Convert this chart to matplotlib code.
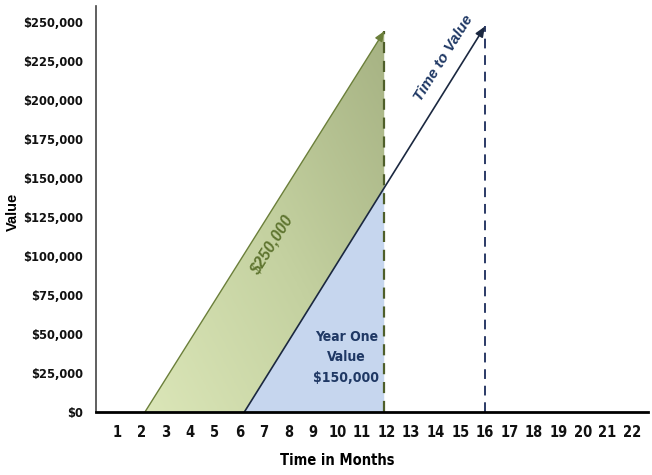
import numpy as np
import matplotlib
matplotlib.use("Agg")
import matplotlib.pyplot as plt
from matplotlib.patches import Polygon
from matplotlib.colors import LinearSegmentedColormap
from matplotlib import font_manager

# ---- data ----
months = list(range(1, 23))
value_ticks = [0, 25000, 50000, 75000, 100000, 125000, 150000, 175000, 200000, 225000, 250000]
value_labels = ["$0", "$25,000", "$50,000", "$75,000", "$100,000", "$125,000",
                "$150,000", "$175,000", "$200,000", "$225,000", "$250,000"]

green_start = 2.15          # month where planned value starts
green_end = (11.9, 244000)  # tip of planned value arrow
ttv_start = 6.2             # month where actual value starts
ttv_end = (16.0, 247000)    # tip of time-to-value arrow
year_end = 11.9             # end of year one

# derived: time-to-value line value at year end
ttv_at_year_end = ttv_end[1] * (year_end - ttv_start) / (ttv_end[0] - ttv_start)

# look for a condensed / narrow face
narrow_family, narrow_stretch = "Liberation Sans", "normal"
for f in font_manager.fontManager.ttflist:
    st = f.stretch
    is_cond = (isinstance(st, str) and "condensed" in st) or (isinstance(st, (int, float)) and st < 500)
    if "Narrow" in f.name or "Condensed" in f.name:
        narrow_family, narrow_stretch = f.name, "normal"
        break
    if is_cond:
        narrow_family, narrow_stretch = f.name, "condensed"
        break

NFONT = dict(family=narrow_family, stretch=narrow_stretch)

fig = plt.figure(figsize=(6.52, 4.75), dpi=100)
ax = fig.add_axes([0.147, 0.1326, 0.847, 0.8544])
ax.set_xlim(0.15, 22.65)
ax.set_ylim(0, 260000)

olive = "#5f7530"
navy = "#1f3864"

# blue triangle (year one value)
blue = Polygon([(ttv_start, 0), (year_end, ttv_at_year_end), (year_end, 0)],
               closed=True, facecolor="#c6d6ee", edgecolor="none", zorder=1)
ax.add_patch(blue)

# green gradient band
band_pts = [(green_start, 0), green_end, (year_end, ttv_at_year_end), (ttv_start, 0)]
band = Polygon(band_pts, closed=True, facecolor="none", edgecolor="none", zorder=1)
ax.add_patch(band)
n = 200
gx, gy = np.meshgrid(np.linspace(0, 1, n), np.linspace(0, 1, n))
grad = 0.55 * gx + 0.45 * gy
cmap = LinearSegmentedColormap.from_list("g", ["#dbe6b8", "#c4d1a0", "#a6b283"])
im = ax.imshow(grad, extent=(green_start, year_end, 0, green_end[1]), origin="lower",
               cmap=cmap, aspect="auto", zorder=1, interpolation="bilinear")
im.set_clip_path(band)

# dashed verticals
ax.plot([year_end, year_end], [0, green_end[1]], color="#4f5f2a", lw=1.6,
        dashes=(5, 3.5), zorder=3)
ax.plot([ttv_end[0], ttv_end[0]], [0, ttv_end[1]], color="#2b3a66", lw=1.4,
        dashes=(5, 3.5), zorder=3)

# arrows
ax.annotate("", xy=green_end, xytext=(green_start, 0),
            arrowprops=dict(arrowstyle="-|>,head_length=0.6,head_width=0.25",
                            color="#6b7f3a", lw=1.0, shrinkA=0, shrinkB=0), zorder=4)
ax.annotate("", xy=ttv_end, xytext=(ttv_start, 0),
            arrowprops=dict(arrowstyle="-|>,head_length=0.6,head_width=0.25",
                            color="#1b2840", lw=1.2, shrinkA=0, shrinkB=0), zorder=4)

# texts
ax.text(7.32, 107000, "$250,000", rotation=58, color=olive, fontsize=11.5,
        fontweight="bold", fontstyle="italic", family="Liberation Sans",
        ha="center", va="center", zorder=5)
ax.text(14.33, 227000, "Time to Value", rotation=58, color=navy, fontsize=11,
        fontweight="bold", fontstyle="italic", family="Liberation Sans",
        ha="center", va="center", zorder=5)
ax.text(10.35, 35000, "Year One\nValue\n$150,000", color=navy, fontsize=10,
        fontweight="bold", ha="center", va="center",
        linespacing=1.6, zorder=5, **NFONT)

# axes styling
for s in ["top", "right"]:
    ax.spines[s].set_visible(False)
ax.spines["bottom"].set_linewidth(2.0)
ax.spines["bottom"].set_color("black")
ax.spines["bottom"].set_zorder(6)
ax.spines["left"].set_linewidth(1.2)
ax.spines["left"].set_color("#444444")

ax.set_xticks(months)
ax.set_xticklabels([str(m) for m in months])
ax.set_yticks(value_ticks)
ax.set_yticklabels(value_labels)
ax.tick_params(axis="x", length=0, labelsize=10.5, pad=9)
ax.tick_params(axis="y", length=0, labelsize=9.3, pad=9)
for lab in ax.get_xticklabels() + ax.get_yticklabels():
    lab.set_family(narrow_family)
    lab.set_stretch(narrow_stretch)
    lab.set_fontweight("bold")
    lab.set_color("#111111")

fig.text(0.02, 0.553, "Value", rotation=90, fontsize=10.5, fontweight="bold",
         family="Liberation Sans", ha="center", va="center")
fig.text(0.518, 0.03, "Time in Months", fontsize=10.5, fontweight="bold",
         ha="center", va="center", **NFONT)

fig.savefig("out.png", dpi=100)
